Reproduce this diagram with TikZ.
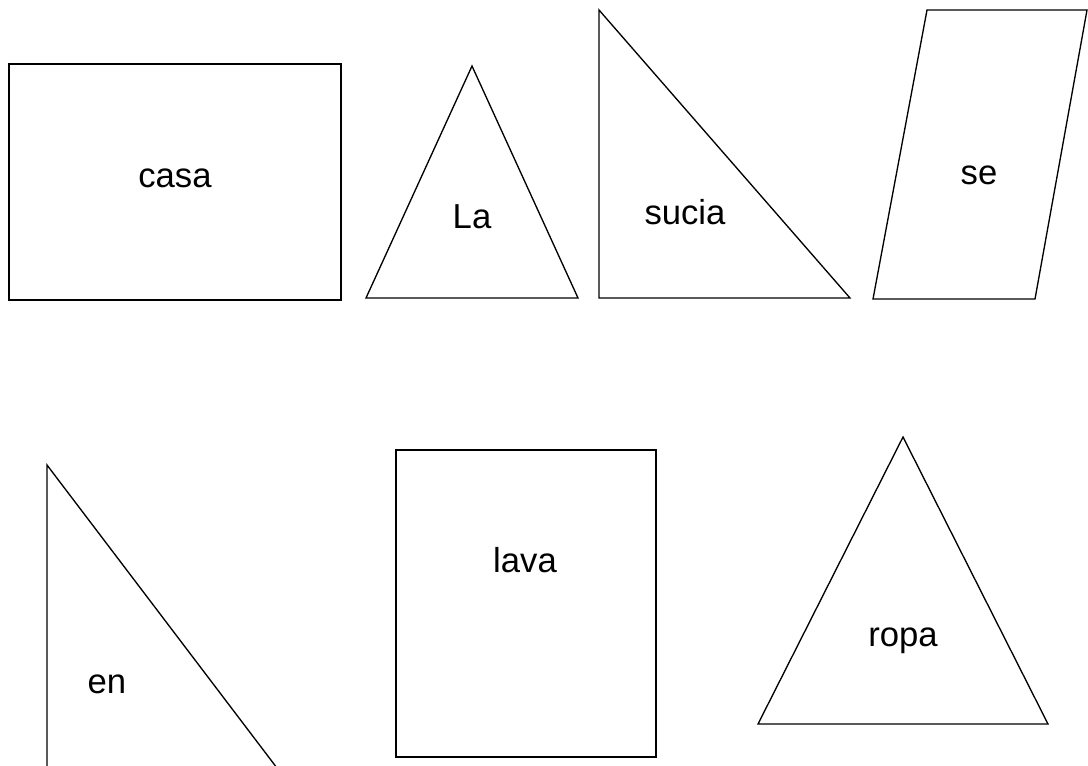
\documentclass[tikz,border=0pt]{standalone}
\usepackage{fontspec}
\setmainfont{Liberation Sans}
\begin{document}
\begin{tikzpicture}[x=0.75pt,y=-0.75pt,
  outline/.style={draw=black,line width=1pt,line join=miter},
  word/.style={anchor=base,inner sep=0pt,font=\fontsize{26}{30}\selectfont}]
\useasboundingbox[fill=white] (0,0) rectangle (1088,765);
% top row
\draw[outline] (9,64) rectangle (341,300);
\draw[outline] (472,66) -- (578,298) -- (366,298) -- cycle;
\draw[outline] (599,10) -- (850,298) -- (599,298) -- cycle;
\draw[outline] (927,10) -- (1087,10) -- (1035,299) -- (873,299) -- cycle;
% bottom row
\draw[outline] (277,768) -- (47,465) -- (47,768);
\draw[outline] (396,450) rectangle (656,757);
\draw[outline] (903,437) -- (1048,724) -- (758,724) -- cycle;
% words
\node[word] (casa) at (175,187) {casa};
\node[word] (la) at (472,228) {La};
\node[word] (sucia) at (685,224) {sucia};
\node[word] (se) at (979,184) {se};
\node[word] (en) at (107,693) {en};
\node[word] (lava) at (525,572) {lava};
\node[word] (ropa) at (903,646) {ropa};
\end{tikzpicture}
\end{document}
